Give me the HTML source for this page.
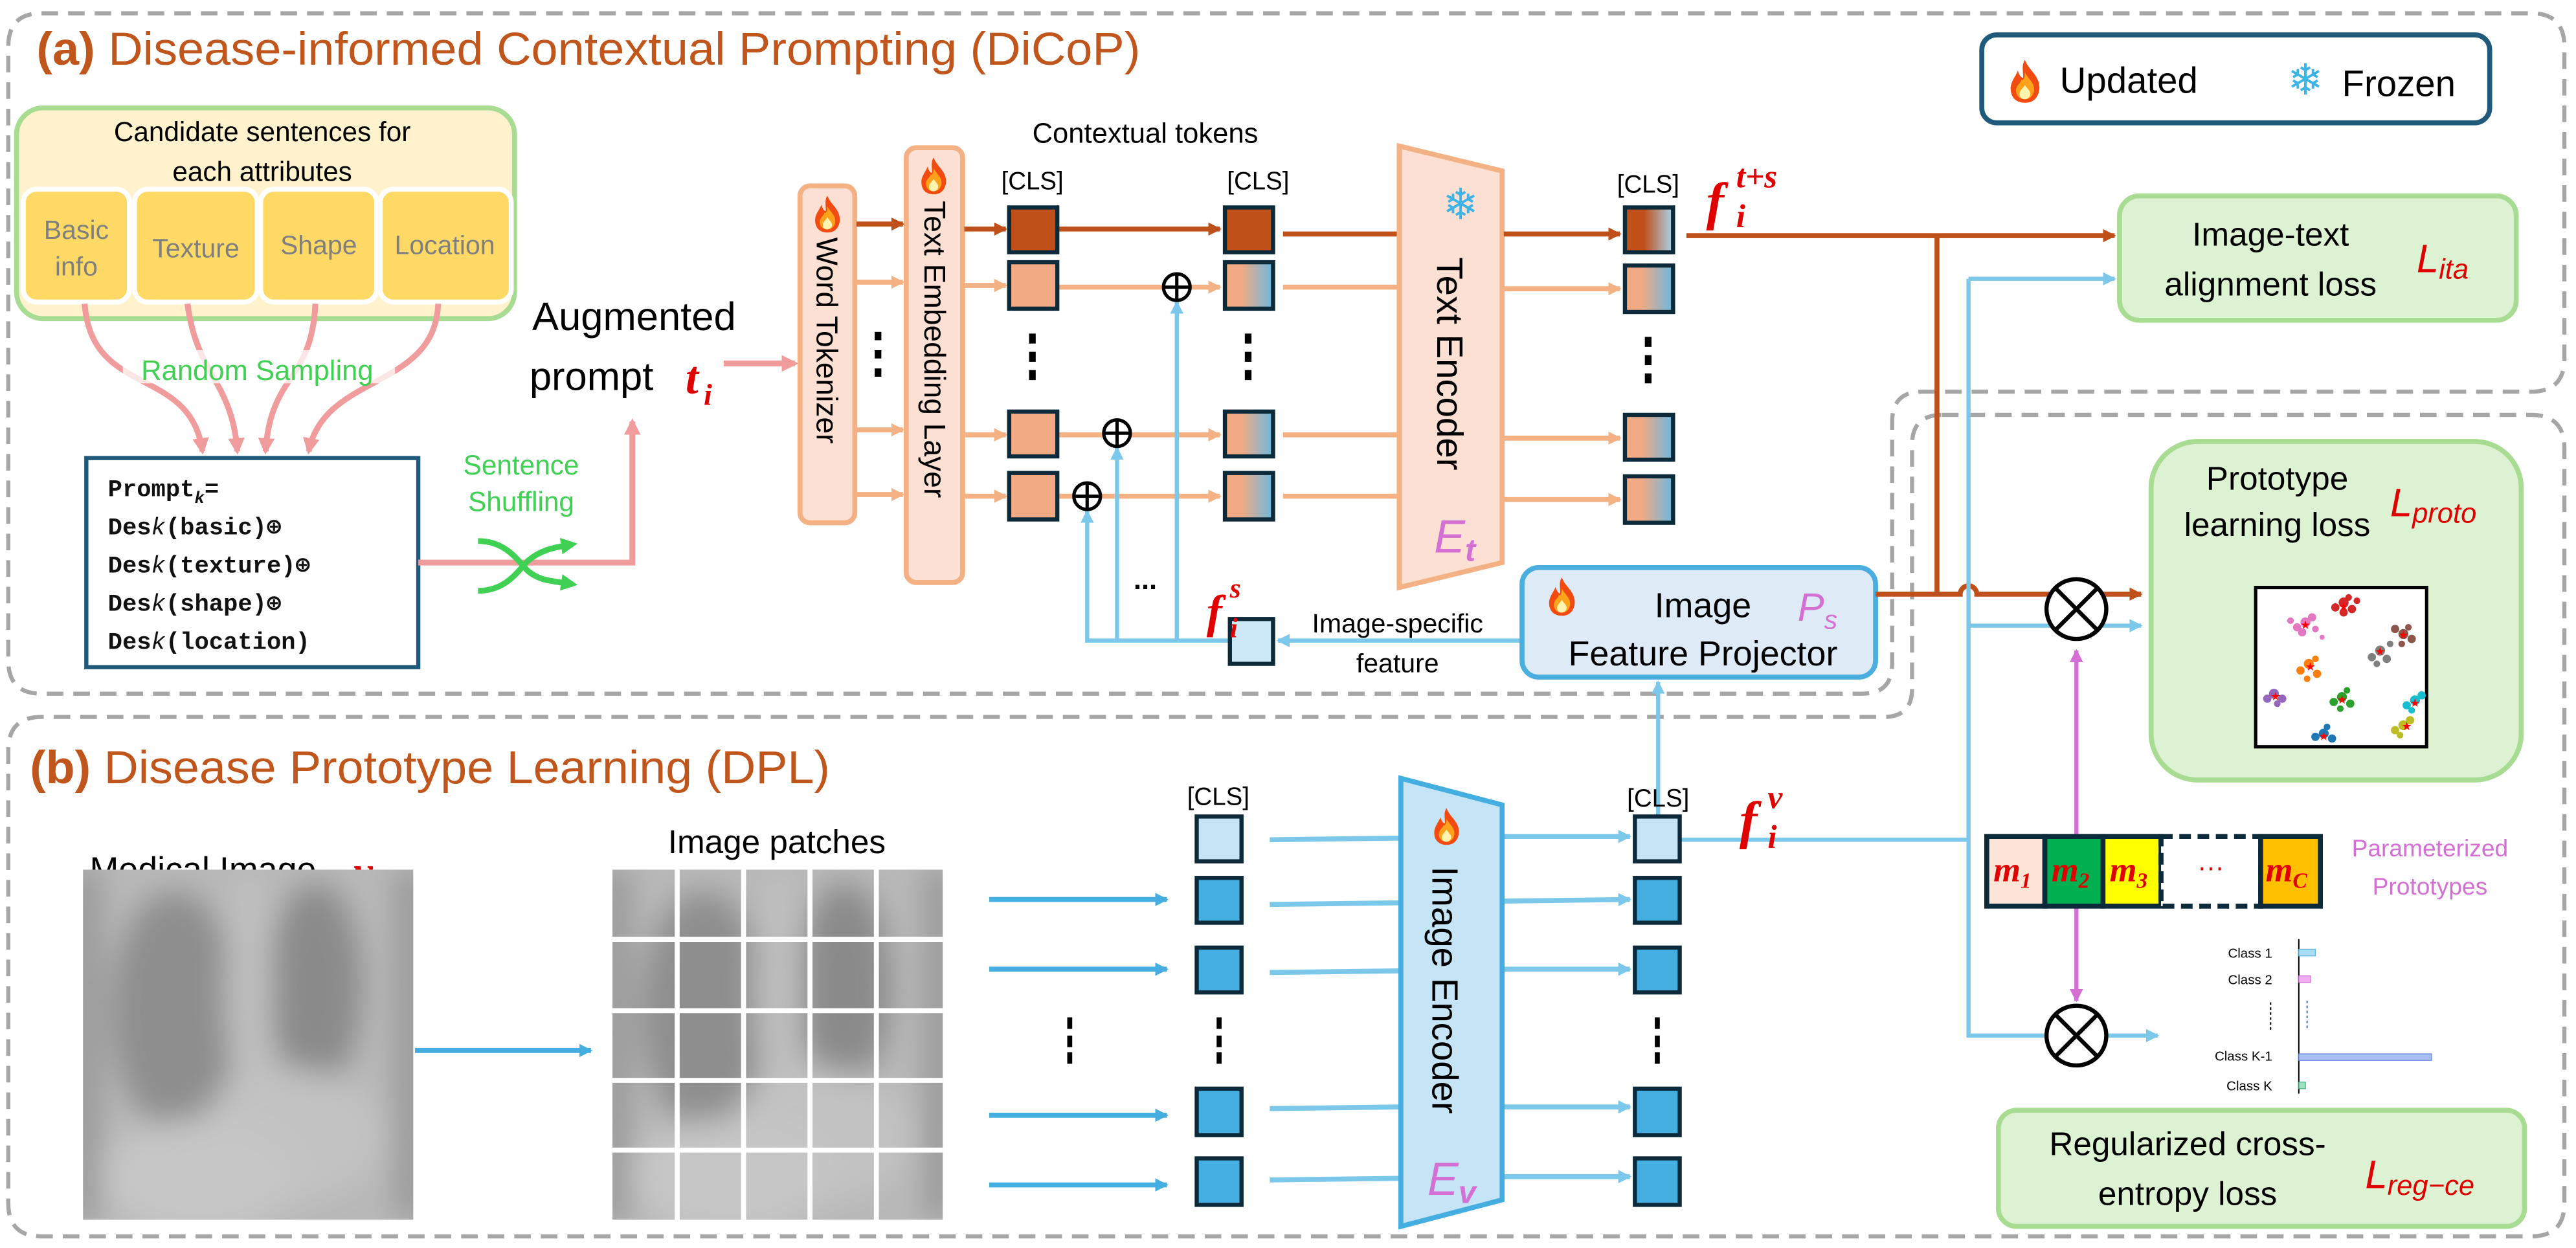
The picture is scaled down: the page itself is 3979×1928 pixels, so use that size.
<!DOCTYPE html>
<html><head><meta charset="utf-8"><style>
html,body{margin:0;padding:0;background:#fff;}
svg{display:block;}
text{font-family:"Liberation Sans",Arial,sans-serif;}
.m{font-family:"Liberation Serif",serif;font-style:italic;font-weight:bold;fill:#e00000;}
.mono{font-family:"Liberation Mono",monospace;font-weight:bold;font-size:14.5px;fill:#111;}
</style></head><body>
<svg width="3979" height="1928" viewBox="0 0 1552 752" xmlns="http://www.w3.org/2000/svg">
<defs>
<marker id="aDk" markerWidth="8" markerHeight="8" refX="7" refY="4" orient="auto" markerUnits="userSpaceOnUse"><path d="M0,0L8,4L0,8z" fill="#C0501A"/></marker>
<marker id="aLo" markerWidth="8" markerHeight="8" refX="7" refY="4" orient="auto" markerUnits="userSpaceOnUse"><path d="M0,0L8,4L0,8z" fill="#F4B183"/></marker>
<marker id="aPk" markerWidth="10" markerHeight="10" refX="8" refY="5" orient="auto" markerUnits="userSpaceOnUse"><path d="M0,0L10,5L0,10z" fill="#F09C9C"/></marker>
<marker id="aBl" markerWidth="8" markerHeight="8" refX="7" refY="4" orient="auto" markerUnits="userSpaceOnUse"><path d="M0,0L8,4L0,8z" fill="#7CC8EB"/></marker>
<marker id="aBd" markerWidth="8" markerHeight="8" refX="7" refY="4" orient="auto" markerUnits="userSpaceOnUse"><path d="M0,0L8,4L0,8z" fill="#45AEE0"/></marker>
<marker id="aPu" markerWidth="8" markerHeight="8" refX="7" refY="4" orient="auto" markerUnits="userSpaceOnUse"><path d="M0,0L8,4L0,8z" fill="#D46FD4"/></marker>
<marker id="aGr" markerWidth="10" markerHeight="10" refX="7" refY="5" orient="auto" markerUnits="userSpaceOnUse"><path d="M0,0L10,5L0,10z" fill="#3FD054"/></marker>
<linearGradient id="gOB" x1="0" x2="1"><stop offset="0.35" stop-color="#F1AA84"/><stop offset="1" stop-color="#6BB8E0"/></linearGradient>
<linearGradient id="gDB" x1="0" x2="1"><stop offset="0.4" stop-color="#C0501A"/><stop offset="1" stop-color="#A9D6EE"/></linearGradient>
<symbol id="flame" viewBox="0 0 20 26"><path d="M10,1C12,7 19,10 18,18C17,23 14,25 10,25C5,25 2,22 2,17C2,13 5,10 6,7C7,10 8,11 9,11C9,7 8,4 10,1z" fill="#F24B12"/><path d="M10,8C12,12 16,14 15,19C14,22 12,23 10,23C7,23 5,21 5,18C5,15 8,14 8,12C9,13 10,11 10,8z" fill="#FFA21B"/><path d="M10,15C11,17 13,18 13,20C13,22 11,23 10,23C8,23 7,22 7,20C7,18 9,17 10,15z" fill="#FFF3B0"/></symbol>
<filter id="bl"><feGaussianBlur stdDeviation="9"/></filter>
<clipPath id="xc"><rect x="0" y="0" width="199" height="211"/></clipPath>
<g id="xray"><g clip-path="url(#xc)">
<rect x="0" y="0" width="199" height="211" fill="#b8b8b8"/>
<g filter="url(#bl)">
<ellipse cx="55" cy="85" rx="38" ry="72" fill="#8e8e8e"/>
<ellipse cx="140" cy="70" rx="28" ry="62" fill="#8a8a8a"/>
<ellipse cx="100" cy="70" rx="14" ry="70" fill="#c0c0c0"/>
<ellipse cx="125" cy="160" rx="55" ry="40" fill="#c2c2c2"/>
<ellipse cx="70" cy="185" rx="60" ry="35" fill="#c6c6c6"/>
<rect x="-5" y="0" width="14" height="211" fill="#909090"/>
<rect x="190" y="0" width="14" height="211" fill="#909090"/>
</g></g></g>
</defs>

<!-- dashed region boxes -->
<path d="M25,8H1525Q1545,8 1545,28V216Q1545,236 1525,236H1158Q1140,236 1140,254V400Q1140,418 1122,418H25Q5,418 5,398V28Q5,8 25,8z" fill="none" stroke="#A6A6A6" stroke-width="2.5" stroke-dasharray="10,6"/>
<path d="M1170,250H1525Q1545,250 1545,270V725Q1545,745 1525,745H25Q5,745 5,725V452Q5,432 25,432H1135Q1152,432 1152,415V268Q1152,250 1170,250z" fill="none" stroke="#A6A6A6" stroke-width="2.5" stroke-dasharray="10,6"/>

<!-- titles -->
<text x="22" y="39" font-size="28" fill="#C0561B" textLength="665" lengthAdjust="spacingAndGlyphs"><tspan font-weight="bold">(a)</tspan> Disease-informed Contextual Prompting (DiCoP)</text>
<text x="18" y="472" font-size="28" fill="#C0561B" textLength="482" lengthAdjust="spacingAndGlyphs"><tspan font-weight="bold">(b)</tspan> Disease Prototype Learning (DPL)</text>

<!-- legend -->
<rect x="1194" y="21" width="306" height="53" rx="9" fill="#fff" stroke="#1F5A7A" stroke-width="3"/>
<use href="#flame" x="1209" y="35" width="22" height="28"/>
<text x="1241" y="56" font-size="22">Updated</text>
<text x="1389" y="57" font-size="26" fill="#3CB4E6" text-anchor="middle">❄</text>
<text x="1411" y="58" font-size="22">Frozen</text>

<!-- candidate box -->
<rect x="10" y="65" width="300" height="127" rx="16" fill="#FFF2CC" stroke="#A9DC93" stroke-width="3"/>
<text x="158" y="85" font-size="16.5" text-anchor="middle">Candidate sentences for</text>
<text x="158" y="109" font-size="16.5" text-anchor="middle">each attributes</text>
<g stroke="#fff" stroke-width="3" fill="#FFD966">
<rect x="14" y="114" width="64" height="68" rx="8"/>
<rect x="81" y="114" width="74" height="68" rx="8"/>
<rect x="157" y="114" width="70" height="68" rx="8"/>
<rect x="229" y="114" width="79" height="68" rx="8"/>
</g>
<g font-size="16" fill="#7F7F7F" text-anchor="middle">
<text x="46" y="144">Basic</text><text x="46" y="166">info</text>
<text x="118" y="155">Texture</text>
<text x="192" y="153">Shape</text>
<text x="268" y="153">Location</text>
</g>
<g fill="none" stroke="#F09C9C" stroke-width="3.5" marker-end="url(#aPk)">
<path d="M51,183C55,240 115,220 122,272"/>
<path d="M113,183C118,225 140,230 143,272"/>
<path d="M190,183C188,230 163,225 160,272"/>
<path d="M264,183C262,235 195,225 186,272"/>
</g>
<rect x="74" y="211" width="164" height="20" fill="#fff" opacity="0.75"/>
<text x="155" y="229" font-size="17" fill="#3FD054" text-anchor="middle">Random Sampling</text>

<!-- prompt box -->
<rect x="52" y="276" width="200" height="126" fill="#fff" stroke="#1F5A7A" stroke-width="2.5"/>
<text class="mono" x="65" y="299">Prompt<tspan font-size="10" dy="4" font-style="italic">k</tspan><tspan dy="-4">=</tspan></text>
<text class="mono" x="65" y="322">Des<tspan font-style="italic" font-weight="normal">k</tspan>(basic)⊕</text>
<text class="mono" x="65" y="345">Des<tspan font-style="italic" font-weight="normal">k</tspan>(texture)⊕</text>
<text class="mono" x="65" y="368">Des<tspan font-style="italic" font-weight="normal">k</tspan>(shape)⊕</text>
<text class="mono" x="65" y="391">Des<tspan font-style="italic" font-weight="normal">k</tspan>(location)</text>

<!-- shuffle -->
<path d="M252,339H381V254" fill="none" stroke="#F09C9C" stroke-width="3.5" marker-end="url(#aPk)"/>
<text x="314" y="286" font-size="16.5" fill="#3FD054" text-anchor="middle">Sentence</text>
<text x="314" y="308" font-size="16.5" fill="#3FD054" text-anchor="middle">Shuffling</text>
<path d="M288,326C305,326 312,338 318,344C325,350 332,350 345,352" fill="none" stroke="#3FD054" stroke-width="3.5" marker-end="url(#aGr)"/>
<path d="M288,356C305,356 312,344 318,338C325,332 332,330 345,328" fill="none" stroke="#3FD054" stroke-width="3.5" marker-end="url(#aGr)"/>

<!-- augmented prompt -->
<text x="382" y="199" font-size="24" text-anchor="middle">Augmented</text>
<text x="319" y="235" font-size="24">prompt</text>
<text class="m" x="413" y="237" font-size="28">t</text>
<text class="m" x="424" y="244" font-size="18">i</text>
<line x1="436" y1="219" x2="479" y2="219" stroke="#F09C9C" stroke-width="3.5" marker-end="url(#aPk)"/>

<!-- word tokenizer -->
<rect x="482" y="112" width="33" height="203" rx="6" fill="#FBE0D3" stroke="#F4B183" stroke-width="3"/>
<use href="#flame" x="489" y="117" width="19" height="24"/>
<text transform="translate(492,143) rotate(90)" font-size="18">Word Tokenizer</text>
<rect x="546" y="89" width="34" height="262" rx="6" fill="#FBE0D3" stroke="#F4B183" stroke-width="3"/>
<use href="#flame" x="553" y="94" width="19" height="24"/>
<text transform="translate(557,121) rotate(90)" font-size="18">Text Embedding Layer</text>
<line x1="516" y1="135" x2="544" y2="135" stroke="#C0501A" stroke-width="3" marker-end="url(#aDk)"/>
<g stroke="#F4B183" stroke-width="3" marker-end="url(#aLo)">
<line x1="516" y1="170" x2="544" y2="170"/><line x1="516" y1="259" x2="544" y2="259"/><line x1="516" y1="298" x2="544" y2="298"/>
</g>
<g fill="#000"><rect x="527" y="200" width="4" height="5"/><rect x="527" y="211" width="4" height="5"/><rect x="527" y="222" width="4" height="5"/></g>

<text x="690" y="86" font-size="17" text-anchor="middle">Contextual tokens</text>
<text x="622" y="114" font-size="15" text-anchor="middle">[CLS]</text>
<text x="758" y="114" font-size="15" text-anchor="middle">[CLS]</text>
<text x="993" y="116" font-size="15" text-anchor="middle">[CLS]</text>

<line x1="581" y1="138" x2="606" y2="138" stroke="#C0501A" stroke-width="3" marker-end="url(#aDk)"/>
<g stroke="#F4B183" stroke-width="3" marker-end="url(#aLo)">
<line x1="581" y1="172" x2="606" y2="172"/><line x1="581" y1="262" x2="606" y2="262"/><line x1="581" y1="299" x2="606" y2="299"/>
</g>
<line x1="638" y1="138" x2="735" y2="138" stroke="#C0501A" stroke-width="3" marker-end="url(#aDk)"/>
<g stroke="#F4B183" stroke-width="3">
<line x1="638" y1="173" x2="735" y2="173" marker-end="url(#aLo)"/><line x1="638" y1="262" x2="735" y2="262" marker-end="url(#aLo)"/><line x1="638" y1="299" x2="735" y2="299" marker-end="url(#aLo)"/>
<line x1="773" y1="173" x2="844" y2="173"/><line x1="773" y1="262" x2="844" y2="262"/><line x1="773" y1="299" x2="844" y2="299"/>
</g>
<line x1="773" y1="141" x2="844" y2="141" stroke="#C0501A" stroke-width="3"/>

<g stroke="#0D2A3A" stroke-width="2.5">
<rect x="608" y="125" width="29" height="27" fill="#C0501A"/>
<rect x="608" y="158" width="29" height="28" fill="#F1AA84"/>
<rect x="608" y="248" width="29" height="27" fill="#F1AA84"/>
<rect x="608" y="285" width="29" height="28" fill="#F1AA84"/>
<rect x="738" y="125" width="29" height="27" fill="#C0501A"/>
<rect x="738" y="158" width="29" height="28" fill="url(#gOB)"/>
<rect x="738" y="248" width="29" height="27" fill="url(#gOB)"/>
<rect x="738" y="285" width="29" height="28" fill="url(#gOB)"/>
<rect x="979" y="125" width="29" height="27" fill="url(#gDB)"/>
<rect x="979" y="160" width="29" height="28" fill="url(#gOB)"/>
<rect x="979" y="250" width="29" height="27" fill="url(#gOB)"/>
<rect x="979" y="287" width="29" height="28" fill="url(#gOB)"/>
</g>
<g fill="#000">
<rect x="620" y="201" width="4" height="6"/><rect x="620" y="212" width="4" height="6"/><rect x="620" y="223" width="4" height="6"/>
<rect x="750" y="201" width="4" height="6"/><rect x="750" y="212" width="4" height="6"/><rect x="750" y="223" width="4" height="6"/>
<rect x="991" y="203" width="4" height="6"/><rect x="991" y="214" width="4" height="6"/><rect x="991" y="225" width="4" height="6"/>
</g>

<g fill="none" stroke="#7CC8EB" stroke-width="2.5">
<path d="M740,386H655V308" marker-end="url(#aBl)"/>
<path d="M673,386V270" marker-end="url(#aBl)"/>
<path d="M709,386V182" marker-end="url(#aBl)"/>
<path d="M917,386H770" marker-end="url(#aBl)"/>
</g>
<g>
<circle cx="709" cy="173" r="8" fill="#fff" stroke="#000" stroke-width="2"/><path d="M701,173H717M709,165V181" stroke="#000" stroke-width="2"/>
<circle cx="673" cy="261" r="8" fill="#fff" stroke="#000" stroke-width="2"/><path d="M665,261H681M673,253V269" stroke="#000" stroke-width="2"/>
<circle cx="655" cy="299" r="8" fill="#fff" stroke="#000" stroke-width="2"/><path d="M647,299H663M655,291V307" stroke="#000" stroke-width="2"/>
</g>
<text x="690" y="355" font-size="17" text-anchor="middle" font-weight="bold">...</text>
<rect x="741" y="373" width="26" height="27" fill="#CDE9F8" stroke="#0D2A3A" stroke-width="2.5"/>
<text class="m" x="727" y="378" font-size="28">f</text>
<text class="m" x="741" y="360" font-size="17">s</text>
<text class="m" x="741" y="384" font-size="17">i</text>
<text x="842" y="381" font-size="16" text-anchor="middle">Image-specific</text>
<text x="842" y="405" font-size="16" text-anchor="middle">feature</text>

<!-- text encoder -->
<path d="M843,88L905,103V339L843,354z" fill="#FBE0D3" stroke="#F4B183" stroke-width="3"/>
<text x="880" y="132" font-size="26" fill="#3CB4E6" text-anchor="middle">❄</text>
<text transform="translate(866,155) rotate(90)" font-size="22">Text Encoder</text>
<text x="864" y="333" font-size="28" font-family="Liberation Serif" font-style="italic" fill="#D46FD4">E<tspan font-size="19" dy="5" font-weight="bold">t</tspan></text>
<line x1="906" y1="141" x2="976" y2="141" stroke="#C0501A" stroke-width="3" marker-end="url(#aDk)"/>
<g stroke="#F4B183" stroke-width="3" marker-end="url(#aLo)">
<line x1="906" y1="174" x2="976" y2="174"/><line x1="906" y1="264" x2="976" y2="264"/><line x1="906" y1="301" x2="976" y2="301"/>
</g>
<text class="m" x="1028" y="132" font-size="32">f</text>
<text class="m" x="1046" y="113" font-size="20">t+s</text>
<text class="m" x="1046" y="137" font-size="20">i</text>

<!-- image feature projector -->
<rect x="917" y="342" width="213" height="66" rx="10" fill="#DEEBF7" stroke="#4AAEDF" stroke-width="3"/>
<use href="#flame" x="931" y="347" width="20" height="25"/>
<text x="1026" y="372" font-size="21" text-anchor="middle">Image</text>
<text x="1083" y="374" font-size="24" font-family="Liberation Serif" font-style="italic" fill="#D46FD4">P<tspan font-size="16" dy="5">s</tspan></text>
<text x="1026" y="401" font-size="21" text-anchor="middle">Feature Projector</text>

<!-- right side connectors -->
<path d="M1016,142H1274" stroke="#C0501A" stroke-width="3" fill="none" marker-end="url(#aDk)"/>
<path d="M1167,142V358" stroke="#C0501A" stroke-width="3" fill="none"/>
<path d="M1130,358H1181A5,5 0 0 1 1191,358H1290" stroke="#C0501A" stroke-width="3" fill="none" marker-end="url(#aDk)"/>
<path d="M1186,168H1274" stroke="#7CC8EB" stroke-width="2.5" fill="none" marker-end="url(#aBl)"/>
<path d="M1186,168V624H1300" stroke="#7CC8EB" stroke-width="2.5" fill="none" marker-end="url(#aBl)"/>
<path d="M1186,377H1290" stroke="#7CC8EB" stroke-width="2.5" fill="none" marker-end="url(#aBl)"/>
<path d="M1013,506H1186" stroke="#7CC8EB" stroke-width="2.5" fill="none"/>
<path d="M999,492V411" stroke="#7CC8EB" stroke-width="2.5" fill="none" marker-end="url(#aBl)"/>

<g stroke="#000" stroke-width="2.5" fill="#fff">
<circle cx="1251" cy="367" r="18"/><path d="M1238,354L1264,380M1264,354L1238,380"/>
<circle cx="1251" cy="624" r="18"/><path d="M1238,611L1264,637M1264,611L1238,637"/>
</g>
<path d="M1251,503V392" stroke="#D46FD4" stroke-width="2.5" marker-end="url(#aPu)"/>
<path d="M1251,546V603" stroke="#D46FD4" stroke-width="2.5" marker-end="url(#aPu)"/>

<!-- loss boxes -->
<rect x="1277" y="118" width="239" height="75" rx="12" fill="#DDF2D3" stroke="#A9DC93" stroke-width="3"/>
<text x="1368" y="148" font-size="20" text-anchor="middle">Image-text</text>
<text x="1368" y="178" font-size="20" text-anchor="middle">alignment loss</text>
<text x="1456" y="164" font-size="24" font-family="Liberation Serif" font-style="italic" fill="#e00000">L<tspan font-size="17" dy="4">ita</tspan></text>

<rect x="1296" y="266" width="223" height="204" rx="28" fill="#DDF2D3" stroke="#A9DC93" stroke-width="3"/>
<text x="1372" y="295" font-size="20" text-anchor="middle">Prototype</text>
<text x="1372" y="323" font-size="20" text-anchor="middle">learning loss</text>
<text x="1440" y="311" font-size="24" font-family="Liberation Serif" font-style="italic" fill="#e00000">L<tspan font-size="17" dy="4">proto</tspan></text>
<rect x="1359" y="354" width="103" height="96" fill="#fff" stroke="#000" stroke-width="2"/>
<g>
<g fill="#E377C2"><circle cx="1389" cy="375" r="3"/><circle cx="1384" cy="378" r="2.5"/><circle cx="1393" cy="372" r="2.5"/><circle cx="1387" cy="381" r="2.5"/><circle cx="1395" cy="379" r="2"/><circle cx="1399" cy="384" r="1.5"/><circle cx="1380" cy="374" r="2"/></g>
<g fill="#D62728"><circle cx="1412" cy="363" r="3"/><circle cx="1407" cy="366" r="2.5"/><circle cx="1417" cy="367" r="2.5"/><circle cx="1412" cy="369" r="2.5"/><circle cx="1415" cy="360" r="2"/><circle cx="1420" cy="362" r="2"/></g>
<g fill="#8C564B"><circle cx="1448" cy="382" r="3"/><circle cx="1443" cy="379" r="2.5"/><circle cx="1453" cy="385" r="2.5"/><circle cx="1447" cy="388" r="2"/><circle cx="1451" cy="378" r="2"/></g>
<g fill="#7F7F7F"><circle cx="1434" cy="392" r="3"/><circle cx="1429" cy="396" r="2.5"/><circle cx="1438" cy="397" r="2.5"/><circle cx="1432" cy="400" r="2"/><circle cx="1440" cy="388" r="2"/></g>
<g fill="#FF7F0E"><circle cx="1391" cy="400" r="3"/><circle cx="1386" cy="404" r="2.5"/><circle cx="1396" cy="406" r="2.5"/><circle cx="1390" cy="409" r="2"/><circle cx="1395" cy="397" r="2"/></g>
<g fill="#9467BD"><circle cx="1370" cy="418" r="3"/><circle cx="1375" cy="421" r="2.5"/><circle cx="1366" cy="421" r="2.5"/><circle cx="1372" cy="424" r="2"/></g>
<g fill="#2CA02C"><circle cx="1411" cy="420" r="3"/><circle cx="1406" cy="423" r="2.5"/><circle cx="1416" cy="424" r="2.5"/><circle cx="1410" cy="427" r="2"/><circle cx="1414" cy="416" r="2"/></g>
<g fill="#17BECF"><circle cx="1455" cy="422" r="3"/><circle cx="1450" cy="425" r="2.5"/><circle cx="1459" cy="419" r="2.5"/><circle cx="1453" cy="428" r="2"/></g>
<g fill="#BCBD22"><circle cx="1448" cy="437" r="3"/><circle cx="1443" cy="440" r="2.5"/><circle cx="1452" cy="434" r="2.5"/><circle cx="1446" cy="443" r="2"/></g>
<g fill="#1F77B4"><circle cx="1400" cy="442" r="3"/><circle cx="1395" cy="444" r="2.5"/><circle cx="1405" cy="445" r="2.5"/><circle cx="1402" cy="438" r="2"/></g>
<g font-size="7" text-anchor="middle"><text x="1389" y="379" fill="red">★</text><text x="1412" y="368" fill="red">★</text><text x="1448" y="385" fill="red">★</text><text x="1434" y="395" fill="red">★</text><text x="1392" y="404" fill="red">★</text><text x="1371" y="422" fill="red">★</text><text x="1411" y="424" fill="red">★</text><text x="1455" y="426" fill="red">★</text><text x="1450" y="440" fill="red">★</text><text x="1400" y="446" fill="red">★</text></g>
</g>

<!-- prototypes -->
<g stroke="#0D2A3A" stroke-width="3">
<rect x="1197" y="504" width="35" height="42" fill="#FCE4D6"/>
<rect x="1232" y="504" width="35" height="42" fill="#00B050"/>
<rect x="1267" y="504" width="35" height="42" fill="#FFFF00"/>
<rect x="1302" y="504" width="60" height="42" fill="#fff" stroke-dasharray="7,4"/>
<rect x="1362" y="504" width="36" height="42" fill="#FFC000"/>
</g>
<text x="1201" y="531" class="m" font-size="21">m<tspan font-size="13" dy="4">1</tspan></text>
<text x="1236" y="531" class="m" font-size="21">m<tspan font-size="13" dy="4">2</tspan></text>
<text x="1271" y="531" class="m" font-size="21">m<tspan font-size="13" dy="4">3</tspan></text>
<text x="1332" y="528" font-size="16" text-anchor="middle" fill="#e00000">···</text>
<text x="1365" y="531" class="m" font-size="21">m<tspan font-size="13" dy="4">C</tspan></text>
<text x="1464" y="516" font-size="14.5" fill="#D46FD4" text-anchor="middle">Parameterized</text>
<text x="1464" y="539" font-size="14.5" fill="#D46FD4" text-anchor="middle">Prototypes</text>

<!-- bar chart -->
<line x1="1385" y1="566" x2="1385" y2="659" stroke="#000" stroke-width="0.8"/>
<g font-size="8" text-anchor="end" fill="#000">
<text x="1369" y="577">Class 1</text><text x="1369" y="593">Class 2</text><text x="1369" y="639">Class K-1</text><text x="1369" y="657">Class K</text>
</g>
<line x1="1368" y1="604" x2="1368" y2="622" stroke="#000" stroke-width="0.8" stroke-dasharray="1.5,1.5"/>
<line x1="1390" y1="603" x2="1390" y2="621" stroke="#4472C4" stroke-width="0.8" stroke-dasharray="1.5,1.5"/>
<rect x="1385" y="572" width="10" height="4" fill="#A9DCF2" stroke="#5FB4E0" stroke-width="0.5"/>
<rect x="1385" y="588" width="7" height="4" fill="#F0B0F0" stroke="#D46FD4" stroke-width="0.5"/>
<rect x="1385" y="635" width="80" height="4" fill="#A8BDF0" stroke="#6A8BE0" stroke-width="0.5"/>
<rect x="1385" y="652" width="4" height="4" fill="#9FE0C0" stroke="#40B080" stroke-width="0.5"/>

<rect x="1204" y="669" width="317" height="70" rx="11" fill="#DDF2D3" stroke="#A9DC93" stroke-width="3"/>
<text x="1318" y="696" font-size="20" text-anchor="middle">Regularized cross-</text>
<text x="1318" y="726" font-size="20" text-anchor="middle">entropy loss</text>
<text x="1425" y="716" font-size="24" font-family="Liberation Serif" font-style="italic" fill="#e00000">L<tspan font-size="17" dy="4">reg−ce</tspan></text>

<!-- (b) images -->
<text x="54" y="531" font-size="21">Medical Image</text>
<text x="213" y="534" class="m" font-size="26">v</text>
<text x="226" y="540" class="m" font-size="16">i</text>
<use href="#xray" x="50" y="524"/>
<use href="#xray" x="369" y="524"/>
<g stroke="#fff" stroke-width="3">
<line x1="408" y1="524" x2="408" y2="735"/><line x1="448" y1="524" x2="448" y2="735"/><line x1="488" y1="524" x2="488" y2="735"/><line x1="528" y1="524" x2="528" y2="735"/>
<line x1="369" y1="566" x2="568" y2="566"/><line x1="369" y1="609" x2="568" y2="609"/><line x1="369" y1="651" x2="568" y2="651"/><line x1="369" y1="693" x2="568" y2="693"/>
</g>
<text x="468" y="514" font-size="20" text-anchor="middle">Image patches</text>
<line x1="250" y1="633" x2="356" y2="633" stroke="#45AEE0" stroke-width="3" marker-end="url(#aBd)"/>
<g stroke="#45AEE0" stroke-width="3" marker-end="url(#aBd)">
<line x1="596" y1="542" x2="703" y2="542"/><line x1="596" y1="584" x2="703" y2="584"/><line x1="596" y1="672" x2="703" y2="672"/><line x1="596" y1="714" x2="703" y2="714"/>
</g>
<g stroke="#7CC8EB" stroke-width="3">
<line x1="765" y1="506" x2="844" y2="505"/><line x1="765" y1="545" x2="844" y2="544"/><line x1="765" y1="586" x2="844" y2="585"/><line x1="765" y1="668" x2="844" y2="667"/><line x1="765" y1="711" x2="844" y2="710"/>
</g>
<g stroke="#7CC8EB" stroke-width="3" marker-end="url(#aBl)">
<line x1="905" y1="504" x2="982" y2="504"/><line x1="905" y1="543" x2="982" y2="542"/><line x1="905" y1="584" x2="982" y2="584"/><line x1="905" y1="667" x2="982" y2="667"/><line x1="905" y1="709" x2="982" y2="709"/>
</g>
<text x="734" y="485" font-size="15" text-anchor="middle">[CLS]</text>
<text x="999" y="486" font-size="15" text-anchor="middle">[CLS]</text>
<g stroke="#0D2A3A" stroke-width="2.5">
<rect x="721" y="492" width="27" height="27" fill="#C5E4F5"/>
<rect x="721" y="529" width="27" height="27" fill="#45AEE0"/>
<rect x="721" y="571" width="27" height="27" fill="#45AEE0"/>
<rect x="721" y="656" width="27" height="28" fill="#45AEE0"/>
<rect x="721" y="698" width="27" height="28" fill="#45AEE0"/>
<rect x="985" y="492" width="27" height="27" fill="#C5E4F5"/>
<rect x="985" y="529" width="27" height="27" fill="#45AEE0"/>
<rect x="985" y="571" width="27" height="27" fill="#45AEE0"/>
<rect x="985" y="656" width="27" height="28" fill="#45AEE0"/>
<rect x="985" y="698" width="27" height="28" fill="#45AEE0"/>
</g>
<g fill="#000">
<rect x="643" y="613" width="3" height="7"/><rect x="643" y="624" width="3" height="7"/><rect x="643" y="634" width="3" height="7"/>
<rect x="733" y="613" width="3" height="7"/><rect x="733" y="624" width="3" height="7"/><rect x="733" y="634" width="3" height="7"/>
<rect x="997" y="613" width="3" height="7"/><rect x="997" y="624" width="3" height="7"/><rect x="997" y="634" width="3" height="7"/>
</g>
<path d="M844,469L905,485V723L844,739z" fill="#C5E4F5" stroke="#45AEE0" stroke-width="3"/>
<use href="#flame" x="862" y="486" width="19" height="24"/>
<text transform="translate(863,522) rotate(90)" font-size="22">Image Encoder</text>
<text x="860" y="720" font-size="28" font-family="Liberation Serif" font-style="italic" fill="#D46FD4">E<tspan font-size="19" dy="5" font-weight="bold">v</tspan></text>
<text class="m" x="1048" y="505" font-size="32">f</text>
<text class="m" x="1065" y="487" font-size="20">v</text>
<text class="m" x="1065" y="511" font-size="20">i</text>
</svg>
</body></html>
